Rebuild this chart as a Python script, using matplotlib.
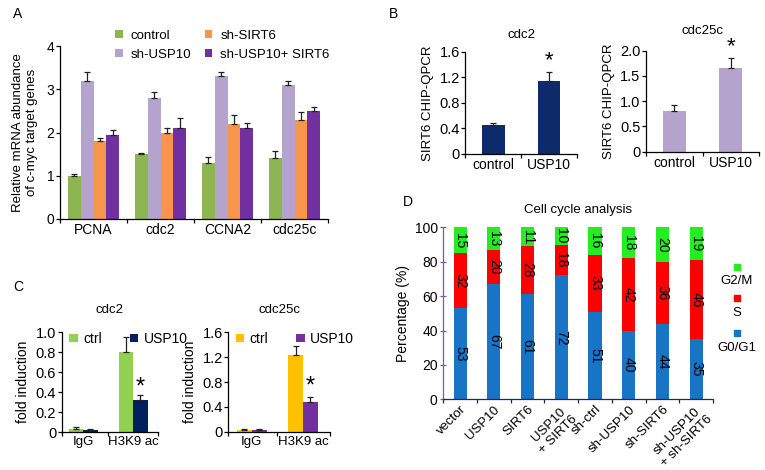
import numpy as np
import matplotlib
matplotlib.use("Agg")
import matplotlib.pyplot as plt

plt.rcParams['font.family'] = ['Liberation Sans', 'DejaVu Sans']
plt.rcParams['font.size'] = 9

W, H = 765, 470

# ---- panel A data
genes = ['PCNA', 'cdc2', 'CCNA2', 'cdc25c']
a_groups = ['control', 'sh-USP10', 'sh-SIRT6', 'sh-USP10+ SIRT6']
a_vals = [[1.0, 1.5, 1.3, 1.4],
          [3.2, 2.8, 3.3, 3.1],
          [1.8, 2.0, 2.2, 2.3],
          [1.95, 2.1, 2.1, 2.5]]
a_err = [[0.04, 0.03, 0.14, 0.17],
         [0.2, 0.13, 0.1, 0.1],
         [0.08, 0.1, 0.2, 0.17],
         [0.1, 0.24, 0.12, 0.09]]
a_colors = ['#8db552', '#b4a3cc', '#f7964a', '#7030a0']

# ---- panel B data
b_cats = ['control', 'USP10']
b_cdc2 = [0.45, 1.14]
b_cdc2_err = [0.03, 0.14]
b_cdc25c = [0.8, 1.65]
b_cdc25c_err = [0.12, 0.2]

# ---- panel C data
c_cats = ['IgG', 'H3K9 ac']
c_cdc2_ctrl = [0.03, 0.8]
c_cdc2_ctrl_err = [0.02, 0.15]
c_cdc2_usp = [0.02, 0.32]
c_cdc2_usp_err = [0.01, 0.05]
c_cdc25c_ctrl = [0.03, 1.24]
c_cdc25c_ctrl_err = [0.02, 0.14]
c_cdc25c_usp = [0.02, 0.48]
c_cdc25c_usp_err = [0.02, 0.08]

# ---- panel D data
d_cats = ['vector', 'USP10', 'SIRT6', 'USP10\n+ SIRT6', 'sh-ctrl',
          'sh-USP10', 'sh-SIRT6', 'sh-USP10\n+ sh-SIRT6']
g0g1 = [53, 67, 61, 72, 51, 40, 44, 35]
s_ph = [32, 20, 28, 18, 33, 42, 36, 46]
g2m = [15, 13, 11, 10, 16, 18, 20, 19]

fig = plt.figure(figsize=(W / 100, H / 100), dpi=100)


def px_axes(l, t, r, b):
    return fig.add_axes([l / W, 1 - b / H, (r - l) / W, (b - t) / H])


def style(ax, color='black'):
    for s in ['top', 'right']:
        ax.spines[s].set_visible(False)
    for s in ['left', 'bottom']:
        ax.spines[s].set_color(color)
        ax.spines[s].set_linewidth(0.9)
    ax.tick_params(axis='y', length=3, width=0.9, color=color, pad=1)
    ax.tick_params(axis='x', which='major', length=0, pad=3)
    ax.tick_params(axis='x', which='minor', length=3, width=0.9, color=color)


def ebar(ax, x, v, e):
    ax.errorbar(x, v, yerr=[np.zeros(len(e)), e], fmt='none', ecolor='#222222',
                elinewidth=0.9, capsize=2.5, capthick=0.9)


# ================= A
ax = px_axes(60, 46, 328, 219)
x = np.arange(len(genes))
bw = 0.19
for i in range(4):
    pos = x + (i - 1.5) * bw
    ax.bar(pos, a_vals[i], bw, color=a_colors[i], label=a_groups[i])
    ebar(ax, pos, a_vals[i], a_err[i])
ax.set_xlim(-0.5, 3.5)
ax.set_ylim(0, 4)
ax.set_yticks([0, 1, 2, 3, 4])
ax.set_yticklabels(['0', '1', '2', '3', '4'], fontsize=10)
ax.set_xticks(x)
ax.set_xticklabels(genes, fontsize=10)
ax.set_xticks(np.arange(-0.5, 4, 1), minor=True)
style(ax)
ax.set_ylabel('Relative mRNA abundance\nof c-myc target genes', fontsize=9.5, labelpad=6)
ax.legend(ncol=2, frameon=False, loc='upper left', bbox_to_anchor=(0.185, 1.125),
          handlelength=0.6, handleheight=0.6, handletextpad=0.6, columnspacing=1.0,
          labelspacing=0.55, fontsize=9.5, borderaxespad=0)
fig.text(13 / W, 1 - 14 / H, 'A', fontsize=10, va='center')

# ================= B
ax = px_axes(465.5, 52, 577, 154)
xb = np.arange(2)
ax.bar(xb, b_cdc2, 0.4, color='#0d2a6b')
ebar(ax, xb, b_cdc2, b_cdc2_err)
ax.text(1, b_cdc2[1] + b_cdc2_err[1] + 0.02, '*', ha='center', va='bottom', fontsize=16)
ax.set_xlim(-0.5, 1.5)
ax.set_ylim(0, 1.6)
ax.set_yticks([0, 0.4, 0.8, 1.2, 1.6])
ax.set_yticklabels(['0', '0.4', '0.8', '1.2', '1.6'], fontsize=10.5)
ax.set_xticks(xb)
ax.set_xticklabels(b_cats, fontsize=10)
ax.set_xticks([-0.5, 0.5, 1.5], minor=True)
style(ax)
ax.set_ylabel('SIRT6 CHIP-QPCR', fontsize=9.5, labelpad=4)
ax.set_title('cdc2', fontsize=9.5, pad=10)
fig.text(389 / W, 1 - 14 / H, 'B', fontsize=10, va='center')

ax = px_axes(646, 50.7, 759, 151.7)
ax.bar(xb, b_cdc25c, 0.4, color='#b4a3cc')
ebar(ax, xb, b_cdc25c, b_cdc25c_err)
ax.text(1, b_cdc25c[1] + b_cdc25c_err[1] + 0.02, '*', ha='center', va='bottom', fontsize=16)
ax.set_xlim(-0.5, 1.5)
ax.set_ylim(0, 2)
ax.set_yticks([0, 0.5, 1.0, 1.5, 2.0])
ax.set_yticklabels(['0', '0.5', '1.0', '1.5', '2.0'], fontsize=10.5)
ax.set_xticks(xb)
ax.set_xticklabels(b_cats, fontsize=10)
ax.set_xticks([-0.5, 0.5, 1.5], minor=True)
style(ax)
ax.set_ylabel('SIRT6 CHIP-QPCR', fontsize=9.5, labelpad=4)
ax.set_title('cdc25c', fontsize=9.5, pad=12)


# ================= C
def panel_c(box, ctrl, ctrl_e, usp, usp_e, colors, ymax, yt, ytl, title, star_y, xl):
    ax = px_axes(*box)
    xc = np.arange(2)
    w = 0.29
    ax.bar(xc - w / 2, ctrl, w, color=colors[0], label='ctrl')
    ax.bar(xc + w / 2, usp, w, color=colors[1], label='USP10')
    ebar(ax, xc - w / 2, ctrl, ctrl_e)
    ebar(ax, xc + w / 2, usp, usp_e)
    ax.text(1 + w / 2, star_y, '*', ha='center', va='center', fontsize=17)
    ax.set_xlim(*xl)
    ax.set_ylim(0, ymax)
    ax.set_yticks(yt)
    ax.set_yticklabels(ytl, fontsize=10.5)
    ax.set_xticks(xc)
    ax.set_xticklabels(c_cats, fontsize=9.5)
    ax.set_xticks([xl[0], 0.5, xl[1]], minor=True)
    style(ax)
    ax.set_ylabel('fold induction', fontsize=10, labelpad=4)
    ax.set_title(title, fontsize=9.5, pad=14)
    ax.legend(ncol=2, frameon=False, loc='upper left', bbox_to_anchor=(0.02, 1.06),
              handlelength=0.6, handleheight=0.6, handletextpad=0.4, columnspacing=2.0,
              fontsize=10, borderaxespad=0)
    return ax


panel_c((61.7, 332.3, 158, 432.3), c_cdc2_ctrl, c_cdc2_ctrl_err, c_cdc2_usp, c_cdc2_usp_err,
        ['#92d050', '#002060'], 1.0, [0, 0.2, 0.4, 0.6, 0.8, 1.0],
        ['0', '0.2', '0.4', '0.6', '0.8', '1.0'], 'cdc2', 0.45, (-0.43, 1.5))
panel_c((228.3, 332.3, 330, 431.7), c_cdc25c_ctrl, c_cdc25c_ctrl_err, c_cdc25c_usp, c_cdc25c_usp_err,
        ['#ffc000', '#7030a0'], 1.6, [0, 0.4, 0.8, 1.2, 1.6],
        ['0', '0.4', '0.8', '1.2', '1.6'], 'cdc25c', 0.72, (-0.46, 1.53))
fig.text(13 / W, 1 - 287 / H, 'C', fontsize=10, va='center')

# ================= D
ax = px_axes(443.3, 227.3, 713, 399.3)
xd = np.arange(len(d_cats))
bw = 0.39
b1 = ax.bar(xd, g0g1, bw, color='#1874c4')
b2 = ax.bar(xd, s_ph, bw, bottom=g0g1, color='#ff0000')
bot2 = np.array(g0g1) + np.array(s_ph)
b3 = ax.bar(xd, g2m, bw, bottom=bot2, color='#22ee22')
for bars, vals in [(b1, g0g1), (b2, s_ph), (b3, g2m)]:
    for r, v in zip(bars, vals):
        ax.text(r.get_x() + r.get_width() / 2, r.get_y() + r.get_height() / 2, str(v),
                rotation=270, ha='center', va='center', fontsize=10)
ax.set_xlim(-0.5, 7.5)
ax.set_ylim(0, 100)
ax.set_yticks([0, 20, 40, 60, 80, 100])
ax.set_yticklabels(['0', '20', '40', '60', '80', '100'], fontsize=10)
ax.set_xticks(xd)
ax.set_xticklabels(d_cats, rotation=45, ha='right', rotation_mode='anchor',
                   multialignment='center', fontsize=9.5)
ax.set_xticks(np.arange(-0.5, 8, 1), minor=True)
style(ax)
ax.spines['left'].set_color('#7b5aa6')
ax.spines['bottom'].set_color('#1a2a5a')
ax.tick_params(axis='y', direction='inout', length=4, color='#7b5aa6', pad=2)
ax.tick_params(axis='x', which='minor', color='#1a2a5a')
ax.set_ylabel('Percentage (%)', fontsize=10, labelpad=3)
ax.set_title('Cell cycle analysis', fontsize=9.5, pad=10)
fig.text(403 / W, 1 - 202 / H, 'D', fontsize=10, va='center')

# stacked legend (marker above label)
for lab, col, ym, yl in [('G2/M', '#22ee22', 267, 281), ('S', '#ff0000', 298, 313),
                         ('G0/G1', '#1874c4', 333, 348)]:
    fig.patches.append(plt.Rectangle(((737 - 3) / W, 1 - (ym + 3) / H), 6 / W, 6 / H,
                                     transform=fig.transFigure, color=col))
    fig.text(737 / W, 1 - yl / H, lab, ha='center', va='center', fontsize=9.5)

fig.savefig('out.png', dpi=100)
